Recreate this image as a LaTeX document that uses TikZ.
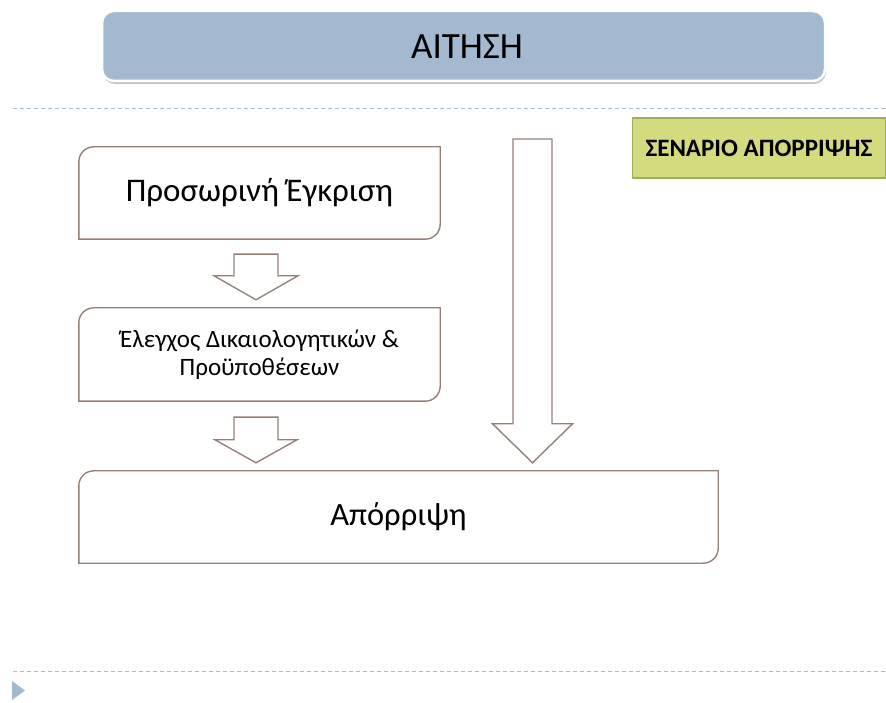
\documentclass[tikz,border=0pt]{standalone}
\usepackage{fontspec}
\setmainfont{Carlito}
\usetikzlibrary{calc,shadows}
\definecolor{titlefill}{HTML}{A3B9D0}
\definecolor{dashcol}{HTML}{A6BBD4}
\definecolor{greenfill}{HTML}{D3DB7E}
\definecolor{greenline}{HTML}{A0AE5A}
\definecolor{boxcol}{HTML}{968078}
\newcommand\blockarr[5]{%
  \draw[arrowline] let \p1=(#1), \p2=(#2) in
    (\x1-#3,\y1) -- (\x1+#3,\y1) -- (\x1+#3,\y2+#5) -- (\x1+#4,\y2+#5)
    -- (\x1,\y2) -- (\x1-#4,\y2+#5) -- (\x1-#3,\y2+#5) -- cycle;}
\newcommand\halfround[1]{%
  \draw[boxline] (#1.south west) -- ([yshift=-15pt]#1.north west)
    arc[start angle=180,end angle=90,radius=15pt] -- (#1.north east)
    -- ([yshift=15pt]#1.south east)
    arc[start angle=0,end angle=-90,radius=15pt] -- cycle;}
\tikzset{
  boxline/.style={draw=boxcol,line width=1.4pt},
  arrowline/.style={draw=boxcol,line width=1.4pt,fill=white},
  flowbox/.style={inner sep=0pt,align=center,text=black},
  sepline/.style={draw=dashcol,line width=0.9pt,dash pattern=on 4pt off 3pt},
}
\begin{document}
\begin{tikzpicture}[x=1pt,y=1pt]
\useasboundingbox (0,0) rectangle (886,702);
% title
\node[draw=white,line width=2.5pt,fill=titlefill,rounded corners=12pt,
      minimum width=723pt,minimum height=70pt,inner sep=0pt,
      drop shadow={shadow xshift=1pt,shadow yshift=-3pt,opacity=0.45}]
      (title) at (463.5,656) {};
\node[font=\fontsize{37}{42}\selectfont] (titletext) at (467,655) {ΑΙΤΗΣΗ};
% separators
\coordinate (s1a) at (13,594); \coordinate (s1b) at (886,594);
\coordinate (s2a) at (13,31);  \coordinate (s2b) at (886,31);
\draw[sepline] (s1a) -- (s1b);
\draw[sepline] (s2a) -- (s2b);
\coordinate (t1) at (12,21); \coordinate (t2) at (25,11.5); \coordinate (t3) at (12,2);
\fill[titlefill] (t1) -- (t2) -- (t3) -- cycle;
% scenario label
\node[draw=greenline,line width=1.2pt,fill=greenfill,minimum width=253pt,
      minimum height=60pt,inner sep=0pt,font=\bfseries\fontsize{25}{29}\selectfont]
      (scen) at (759,554) {ΣΕΝΑΡΙΟ ΑΠΟΡΡΙΨΗΣ};
% boxes
\node[flowbox,minimum width=361pt,minimum height=92pt,font=\fontsize{33}{38}\selectfont]
      (b1) at (259.5,509) {Προσωρινή Έγκριση};
\node[flowbox,minimum width=361pt,minimum height=93pt,font=\fontsize{25}{28}\selectfont]
      (b2) at (259.5,347.5) {\raisebox{-3pt}{Έλεγχος Δικαιολογητικών \&}\\\raisebox{-3pt}{Προϋποθέσεων}};
\node[flowbox,minimum width=639pt,minimum height=92pt,font=\fontsize{32.5}{38}\selectfont]
      (b3) at (398.5,185) {Απόρριψη};
\halfround{b1}
\halfround{b2}
\halfround{b3}
% block arrows
\coordinate (a1s) at ([xshift=-3.5pt,yshift=-15pt]b1.south);
\coordinate (a1e) at ([xshift=-3.5pt,yshift=8pt]b2.north);
\blockarr{a1s}{a1e}{22pt}{42pt}{24pt}
\coordinate (a2s) at ([xshift=-3.5pt,yshift=-16pt]b2.south);
\coordinate (a2e) at ([xshift=-3.5pt,yshift=8pt]b3.north);
\blockarr{a2s}{a2e}{22pt}{41pt}{23pt}
\coordinate (a3s) at (532.5,563);
\coordinate (a3e) at ([xshift=134pt,yshift=8pt]b3.north);
\blockarr{a3s}{a3e}{19.5pt}{40pt}{39pt}
\end{tikzpicture}
\end{document}
